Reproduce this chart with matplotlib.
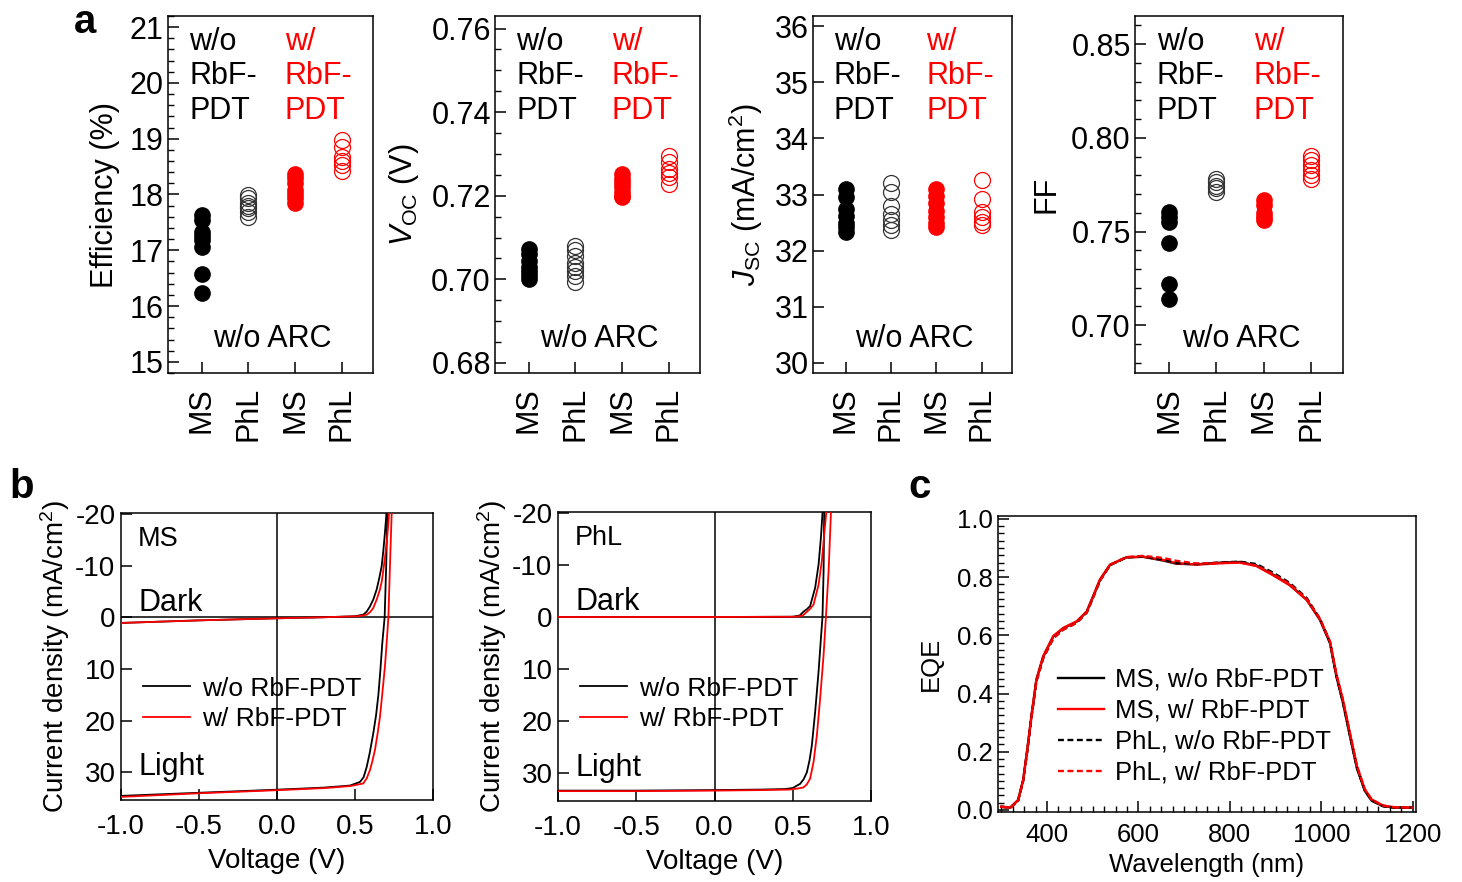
import matplotlib
matplotlib.use("Agg")
import matplotlib.pyplot as plt
from matplotlib.ticker import MultipleLocator, FormatStrFormatter
from matplotlib.lines import Line2D

plt.rcParams['font.family'] = ['Liberation Sans', 'DejaVu Sans']
plt.rcParams['mathtext.fontset'] = 'custom'
plt.rcParams['mathtext.rm'] = 'Liberation Sans'
plt.rcParams['mathtext.it'] = 'Liberation Sans:italic'
plt.rcParams['mathtext.bf'] = 'Liberation Sans:bold'
plt.rcParams['axes.linewidth'] = 1.1
plt.rcParams['axes.unicode_minus'] = False

# ---------------- data: panel a ----------------
categories = ['MS', 'PhL', 'MS', 'PhL']

eff_ms_wo = [17.63, 17.55, 17.33, 17.25, 17.18, 17.06, 16.58, 16.24]
eff_phl_wo = [17.99, 17.93, 17.85, 17.80, 17.75, 17.68, 17.60]
eff_ms_w = [18.37, 18.30, 18.20, 18.08, 18.00, 17.93, 17.84]
eff_phl_w = [18.97, 18.85, 18.68, 18.60, 18.52, 18.42]

voc_ms_wo = [0.7073, 0.7060, 0.7045, 0.7030, 0.7020, 0.7010, 0.7000]
voc_phl_wo = [0.7081, 0.7070, 0.7055, 0.7040, 0.7030, 0.7020, 0.7008, 0.6994]
voc_ms_w = [0.7251, 0.7240, 0.7230, 0.7220, 0.7210, 0.7200, 0.7196]
voc_phl_w = [0.7295, 0.7280, 0.7265, 0.7255, 0.7245, 0.7228]

jsc_ms_wo = [33.10, 32.95, 32.75, 32.62, 32.50, 32.42, 32.33]
jsc_phl_wo = [33.20, 33.05, 32.80, 32.65, 32.55, 32.45, 32.36]
jsc_ms_w = [33.10, 32.98, 32.85, 32.70, 32.60, 32.50, 32.42]
jsc_phl_w = [33.26, 32.92, 32.69, 32.60, 32.51, 32.45]

ff_ms_wo = [0.7604, 0.7577, 0.7550, 0.7438, 0.7222, 0.7142]
ff_phl_wo = [0.7781, 0.7765, 0.7745, 0.7730, 0.7710]
ff_ms_w = [0.7666, 0.7640, 0.7600, 0.7580, 0.7560]
ff_phl_w = [0.7905, 0.7880, 0.7855, 0.7830, 0.7800, 0.7781]

# ---------------- data: panel b (J-V) ----------------
ms_light_wo_v = [-1.0, -0.5, 0.0, 0.3, 0.468, 0.532, 0.555, 0.575, 0.595, 0.617, 0.635, 0.65, 0.662, 0.675, 0.69, 0.70, 0.708]
ms_light_wo_j = [34.6, 34.0, 33.4, 33.0, 32.6, 31.9, 31.0, 29.0, 26.2, 22.5, 19.0, 15.0, 10.5, 5.0, 0.0, -10.0, -21.0]
ms_light_w_v = [-1.0, -0.5, 0.0, 0.3, 0.47, 0.553, 0.575, 0.596, 0.612, 0.628, 0.645, 0.66, 0.676, 0.692, 0.704, 0.714, 0.724, 0.735, 0.737]
ms_light_w_j = [34.8, 34.1, 33.5, 33.1, 32.7, 32.2, 31.2, 29.6, 27.8, 25.7, 22.5, 19.3, 14.5, 9.5, 4.5, 0.0, -9.9, -20.0, -21.0]
ms_dark_wo_v = [-1.0, -0.5, 0.0, 0.3, 0.5, 0.553, 0.575, 0.596, 0.618, 0.639, 0.655, 0.671, 0.682, 0.692, 0.70, 0.703]
ms_dark_wo_j = [1.1, 0.6, 0.2, 0.0, -0.2, -0.5, -1.1, -2.1, -3.5, -5.4, -7.5, -9.9, -13.0, -16.4, -19.5, -21.0]
ms_dark_w_v = [-1.0, -0.5, 0.0, 0.3, 0.52, 0.575, 0.597, 0.617, 0.64, 0.66, 0.672, 0.681, 0.693, 0.703, 0.712, 0.718, 0.72]
ms_dark_w_j = [1.1, 0.6, 0.2, 0.0, -0.2, -0.5, -1.0, -1.8, -3.5, -5.4, -7.0, -9.0, -11.8, -14.5, -17.5, -20.0, -21.0]

phl_light_wo_v = [-1.0, -0.5, 0.0, 0.3, 0.45, 0.50, 0.547, 0.57, 0.59, 0.607, 0.622, 0.643, 0.665, 0.68, 0.69, 0.697, 0.701, 0.702]
phl_light_wo_j = [33.4, 33.4, 33.3, 33.2, 33.1, 32.9, 32.1, 31.2, 29.9, 27.6, 24.7, 18.3, 10.5, 4.1, 0.0, -8.8, -20.0, -21.0]
phl_light_w_v = [-1.0, -0.5, 0.0, 0.3, 0.48, 0.53, 0.568, 0.59, 0.611, 0.633, 0.654, 0.675, 0.697, 0.712, 0.729, 0.744, 0.746]
phl_light_w_j = [33.5, 33.5, 33.4, 33.3, 33.2, 33.0, 32.8, 32.2, 31.1, 27.9, 22.8, 15.7, 7.3, 0.0, -8.8, -20.0, -21.0]
phl_dark_wo_v = [-1.0, 0.0, 0.5, 0.545, 0.568, 0.59, 0.611, 0.643, 0.665, 0.68, 0.69, 0.692]
phl_dark_wo_j = [0.0, 0.0, -0.05, -0.3, -1.0, -1.5, -2.1, -5.6, -10.1, -15.3, -20.0, -21.0]
phl_dark_w_v = [-1.0, 0.0, 0.52, 0.565, 0.59, 0.612, 0.633, 0.665, 0.686, 0.701, 0.714, 0.716]
phl_dark_w_j = [0.0, 0.0, -0.05, -0.3, -1.0, -1.6, -2.4, -6.2, -10.8, -15.9, -20.0, -21.0]

# ---------------- data: panel c (EQE) ----------------
wavelength = [300, 320, 337, 348, 356, 367, 377, 392, 414, 436, 465, 487, 501, 516, 538, 574, 610,
              654, 683, 727, 785, 822, 858, 895, 931, 968, 997, 1019, 1033, 1047, 1062, 1078,
              1095, 1110, 1135, 1160, 1200]
eqe_ms_wo = [0.011, 0.008, 0.034, 0.103, 0.195, 0.332, 0.447, 0.527, 0.596, 0.624, 0.647, 0.681, 0.733,
             0.790, 0.842, 0.868, 0.870, 0.857, 0.846, 0.844, 0.850, 0.852, 0.840, 0.808, 0.773, 0.722,
             0.653, 0.573, 0.458, 0.370, 0.258, 0.142, 0.066, 0.032, 0.013, 0.008, 0.008]
eqe_ms_w = [0.011, 0.008, 0.034, 0.103, 0.195, 0.334, 0.449, 0.529, 0.598, 0.626, 0.648, 0.682, 0.735,
            0.792, 0.843, 0.868, 0.870, 0.859, 0.848, 0.843, 0.848, 0.850, 0.838, 0.806, 0.772, 0.722,
            0.655, 0.578, 0.465, 0.380, 0.268, 0.150, 0.071, 0.036, 0.015, 0.009, 0.008]
eqe_phl_wo = [0.011, 0.008, 0.032, 0.100, 0.190, 0.328, 0.442, 0.522, 0.590, 0.620, 0.643, 0.678, 0.730,
              0.788, 0.841, 0.868, 0.871, 0.860, 0.849, 0.845, 0.851, 0.853, 0.845, 0.815, 0.780, 0.728,
              0.657, 0.575, 0.460, 0.372, 0.260, 0.144, 0.067, 0.033, 0.013, 0.008, 0.008]
eqe_phl_w = [0.011, 0.008, 0.032, 0.100, 0.190, 0.328, 0.442, 0.522, 0.590, 0.620, 0.643, 0.678, 0.730,
             0.788, 0.842, 0.869, 0.873, 0.866, 0.856, 0.847, 0.849, 0.850, 0.840, 0.810, 0.776, 0.725,
             0.657, 0.578, 0.465, 0.380, 0.268, 0.150, 0.071, 0.036, 0.015, 0.009, 0.008]

# ---------------- figure ----------------
W, H = 1462, 882
fig = plt.figure(figsize=(W / 100, H / 100), dpi=100)


def rect(l, r, t, b):
    return [l / W, (H - b) / H, (r - l) / W, (b - t) / H]


RED = '#ff0000'
FS_A = 22


def panel_a(ax, groups, ylim, major, minor, fmt, ylabel):
    ms_wo, phl_wo, ms_w, phl_w = groups
    ax.plot([1] * len(ms_wo), ms_wo, 'o', color='black', ms=11, ls='none')
    ax.plot([2] * len(phl_wo), phl_wo, 'o', mfc='none', mec='#333333', mew=0.9, ms=11.5, ls='none')
    ax.plot([3] * len(ms_w), ms_w, 'o', color=RED, ms=11, ls='none')
    ax.plot([4] * len(phl_w), phl_w, 'o', mfc='none', mec=RED, mew=0.9, ms=11.5, ls='none')
    ax.set_xlim(0.28, 4.67)
    ax.set_ylim(*ylim)
    ax.set_xticks([1, 2, 3, 4])
    ax.set_xticklabels(categories, rotation=90, fontsize=FS_A)
    ax.yaxis.set_major_locator(MultipleLocator(major))
    if minor:
        ax.yaxis.set_minor_locator(MultipleLocator(minor))
    ax.yaxis.set_major_formatter(FormatStrFormatter(fmt))
    ax.tick_params(axis='both', which='major', direction='in', length=8, width=1.1,
                   labelsize=FS_A, pad=3)
    ax.tick_params(axis='y', which='minor', direction='in', length=4, width=1.0)
    ax.tick_params(axis='x', which='major', pad=10)
    ax.set_ylabel(ylabel, fontsize=FS_A, labelpad=7)
    ax.text(0.105, 0.97, 'w/o\nRbF-\nPDT', transform=ax.transAxes, ha='left', va='top',
            fontsize=FS_A, color='black', linespacing=1.2)
    ax.text(0.57, 0.97, 'w/\nRbF-\nPDT', transform=ax.transAxes, ha='left', va='top',
            fontsize=FS_A, color=RED, linespacing=1.2)
    ax.text(0.51, 0.073, 'w/o ARC', transform=ax.transAxes, ha='center', va='baseline',
            fontsize=FS_A)


ax1 = fig.add_axes(rect(168, 373, 16, 373))
panel_a(ax1, (eff_ms_wo, eff_phl_wo, eff_ms_w, eff_phl_w), (14.8, 21.2), 1, 0.2, '%d',
        'Efficiency (%)')
ax2 = fig.add_axes(rect(495, 700, 16, 373))
panel_a(ax2, (voc_ms_wo, voc_phl_wo, voc_ms_w, voc_phl_w), (0.6776, 0.7630), 0.02, 0.005, '%.2f',
        r'$V_{\mathrm{OC}}$ (V)')
ax3 = fig.add_axes(rect(813, 1012, 16, 373))
panel_a(ax3, (jsc_ms_wo, jsc_phl_wo, jsc_ms_w, jsc_phl_w), (29.82, 36.18), 1, None, '%d',
        r'$J_{\mathrm{SC}}$ (mA/cm$^{2}$)')
ax4 = fig.add_axes(rect(1135, 1343, 16, 373))
panel_a(ax4, (ff_ms_wo, ff_phl_wo, ff_ms_w, ff_phl_w), (0.6745, 0.865), 0.05, 0.01, '%.2f', 'FF')

# ---------------- panel b ----------------
FS_B = 20


def panel_b(ax, curves, label):
    (lwo_v, lwo_j), (lw_v, lw_j), (dwo_v, dwo_j), (dw_v, dw_j) = curves
    ax.axhline(0, color='black', lw=1.1, zorder=1)
    ax.axvline(0, color='black', lw=1.1, zorder=1)
    ax.plot(dwo_v, dwo_j, color='black', lw=1.3, zorder=2)
    ax.plot(lwo_v, lwo_j, color='black', lw=1.3, zorder=2)
    ax.plot(dw_v, dw_j, color=RED, lw=1.3, zorder=3)
    ax.plot(lw_v, lw_j, color=RED, lw=1.3, zorder=3)
    ax.set_xlim(-1.0, 1.0)
    ax.set_ylim(35.4, -20.2)
    ax.set_xticks([-1.0, -0.5, 0.0, 0.5, 1.0])
    ax.xaxis.set_major_formatter(FormatStrFormatter('%.1f'))
    ax.set_yticks([-20, -10, 0, 10, 20, 30])
    ax.tick_params(axis='both', which='major', direction='in', length=8, width=1.1,
                   labelsize=FS_B, pad=4)
    ax.tick_params(axis='x', which='major', pad=10)
    ax.set_xlabel('Voltage (V)', fontsize=FS_B, labelpad=6)
    ax.set_ylabel('Current density (mA/cm$^{2}$)', fontsize=FS_B, labelpad=2)
    ax.text(0.055, 0.885, label, transform=ax.transAxes, fontsize=19.5, va='baseline')
    ax.text(0.055, 0.66, 'Dark', transform=ax.transAxes, fontsize=22, va='baseline')
    ax.text(0.055, 0.088, 'Light', transform=ax.transAxes, fontsize=22, va='baseline')
    handles = [Line2D([], [], color='black', lw=1.3), Line2D([], [], color=RED, lw=1.3)]
    ax.legend(handles, ['w/o RbF-PDT', 'w/ RbF-PDT'], loc='upper left',
              bbox_to_anchor=(0.07, 0.43), frameon=False, fontsize=19,
              handlelength=1.8, handletextpad=0.45, labelspacing=0.25, borderpad=0,
              borderaxespad=0)


axb1 = fig.add_axes(rect(121, 433, 513, 800))
panel_b(axb1, ((ms_light_wo_v, ms_light_wo_j), (ms_light_w_v, ms_light_w_j),
               (ms_dark_wo_v, ms_dark_wo_j), (ms_dark_w_v, ms_dark_w_j)), 'MS')
axb2 = fig.add_axes(rect(558, 871, 512, 801))
panel_b(axb2, ((phl_light_wo_v, phl_light_wo_j), (phl_light_w_v, phl_light_w_j),
               (phl_dark_wo_v, phl_dark_wo_j), (phl_dark_w_v, phl_dark_w_j)), 'PhL')

# ---------------- panel c ----------------
FS_C = 18.5
axc = fig.add_axes(rect(998, 1416, 516, 812))
axc.plot(wavelength, eqe_ms_wo, color='black', lw=1.7, label='MS, w/o RbF-PDT')
axc.plot(wavelength, eqe_ms_w, color=RED, lw=1.7, label='MS, w/ RbF-PDT')
axc.plot(wavelength, eqe_phl_wo, color='black', lw=1.7, ls=(0, (2.5, 1.5)), label='PhL, w/o RbF-PDT')
axc.plot(wavelength, eqe_phl_w, color=RED, lw=1.7, ls=(0, (2.5, 1.5)), label='PhL, w/ RbF-PDT')
axc.set_xlim(293, 1207)
axc.set_ylim(-0.007, 1.01)
axc.xaxis.set_major_locator(MultipleLocator(200))
axc.xaxis.set_minor_locator(MultipleLocator(25))
axc.yaxis.set_major_locator(MultipleLocator(0.2))
axc.yaxis.set_minor_locator(MultipleLocator(0.025))
axc.yaxis.set_major_formatter(FormatStrFormatter('%.1f'))
axc.tick_params(axis='both', which='major', direction='in', length=8, width=1.1,
                labelsize=FS_C, pad=4)
axc.tick_params(axis='x', which='major', pad=8)
axc.tick_params(axis='both', which='minor', direction='in', length=4, width=1.0)
axc.set_xlabel('Wavelength (nm)', fontsize=FS_C, labelpad=4)
axc.set_ylabel('EQE', fontsize=FS_C, labelpad=10)
axc.legend(loc='upper left', bbox_to_anchor=(0.144, 0.487), frameon=False, fontsize=FS_C,
           handlelength=1.8, handletextpad=0.4, labelspacing=0.27, borderpad=0, borderaxespad=0)

# ---------------- panel labels ----------------
fig.text(85 / W, 1 - 22 / H, 'a', fontsize=29, fontweight='bold', ha='center', va='center')
fig.text(22 / W, 1 - 487 / H, 'b', fontsize=29, fontweight='bold', ha='center', va='center')
fig.text(920 / W, 1 - 487 / H, 'c', fontsize=29, fontweight='bold', ha='center', va='center')

fig.savefig('out.png', dpi=100)
